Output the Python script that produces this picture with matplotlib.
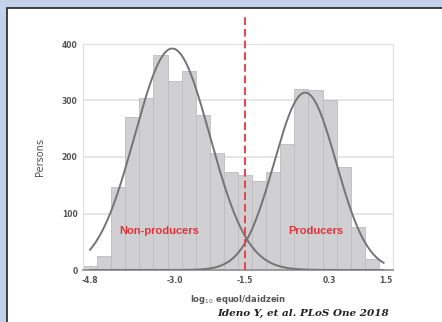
import numpy as np
import matplotlib
matplotlib.use('Agg')
import matplotlib.pyplot as plt
from matplotlib.patches import Rectangle

# histogram: bin centres (log10 equol/daidzein) and counts
centres = [-4.8 + 0.3 * k for k in range(22)]
counts = [7, 25, 147, 271, 304, 380, 335, 352, 274, 207, 174,
          168, 158, 174, 223, 321, 319, 300, 183, 76, 20, 0]
xticks = [-4.8, -3.0, -1.5, 0.3, 1.5]
xticklabels = ['-4.8', '-3.0', '-1.5', '0.3', '1.5']
yticks = [0, 100, 200, 300, 400]

# fitted normal curves (mean, sd, peak height)
nonprod = (-3.05, 0.80, 392)
prod = (-0.22, 0.66, 314)
cutoff = -1.5

fig = plt.figure(figsize=(4.42, 3.22), dpi=100)
fig.patch.set_facecolor('#c3d1ea')
fig.patches.append(Rectangle((6.5/442, -0.1), 1.2, 1.1 - 7.5/322, transform=fig.transFigure,
                             facecolor='white', edgecolor='#222222', lw=1.2, zorder=-5))

ax = fig.add_axes([83/442, 1 - 270/322, 310/442, 226/322])
ax.set_zorder(2)
ax.set_facecolor('none')
ax.bar(centres, counts, width=0.3, color='#d0d0d2', edgecolor='#bcbcbe', linewidth=0.6, zorder=2)

xs = np.linspace(-4.8, 1.45, 300)
for mu, sd, pk in (nonprod, prod):
    ax.plot(xs, pk * np.exp(-(xs - mu) ** 2 / (2 * sd ** 2)), color='#747474', lw=1.4, zorder=3)

ax.plot([cutoff, cutoff], [0, 447], color='#e8434b', lw=1.4, ls=(0, (4, 2)), clip_on=False, zorder=4)

ax.text(-3.33, 69, 'Non-producers', color='#e53038', fontsize=8, fontweight='bold',
        family='Liberation Sans', ha='center', va='center', zorder=5)
ax.text(0.0, 69, 'Producers', color='#e53038', fontsize=8, fontweight='bold',
        family='Liberation Sans', ha='center', va='center', zorder=5)

ax.set_xlim(-4.95, 1.65)
ax.set_ylim(0, 400)
ax.set_xticks(xticks)
ax.set_xticklabels(xticklabels)
ax.set_yticks(yticks)
ax.tick_params(length=0, labelsize=5.5, colors='#555555', pad=4)
for lab in ax.get_xticklabels() + ax.get_yticklabels():
    lab.set_fontweight('bold')
ax.grid(axis='y', color='#e2e2e2', lw=1.2, zorder=1)
for s in ('left', 'right', 'top'):
    ax.spines[s].set_color('#e0e0e0')
ax.spines['bottom'].set_color('#8c8c8c')
ax.spines['bottom'].set_linewidth(1.2)

ax.set_ylabel('Persons', fontsize=7, color='#555555', labelpad=12)
ax.set_xlabel(r'log$_{10}$ equol/daidzein', fontsize=6, color='#555555', fontweight='bold', labelpad=6)

fig.text(303/442, 1 - 313/322, 'Ideno Y, et al. PLoS One 2018', family='DejaVu Serif',
         fontsize=7.5, fontweight='bold', style='italic', color='#222222', ha='center', va='center')

fig.savefig('out.png', dpi=100, facecolor=fig.get_facecolor())
